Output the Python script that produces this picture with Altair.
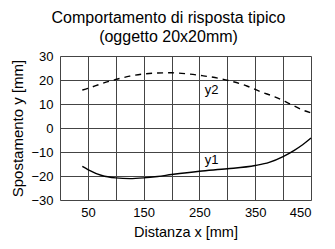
import altair as alt
import pandas as pd

title_lines = ["Comportamento di risposta tipico", "(oggetto 20x20mm)"]
x_title = "Distanza x [mm]"
y_title = "Spostamento y [mm]"

x1 = [40, 50, 75, 100, 125, 150, 175, 200, 250, 300, 350, 375, 400, 420, 435, 450]
y1 = [-16.0, -17.3, -19.8, -20.8, -21.1, -20.8, -20.2, -19.4, -18.0, -17.0, -15.6, -14.3, -11.9, -9.3, -7.0, -4.2]

x2 = [40, 50, 75, 100, 125, 150, 175, 200, 230, 255, 285, 310, 335, 360, 385, 410, 435, 450]
y2 = [15.8, 16.5, 18.5, 20.2, 21.6, 22.5, 22.9, 23.0, 22.5, 21.8, 20.7, 19.3, 17.5, 15.1, 13.0, 10.3, 7.5, 6.3]

label_names = ["y1", "y2"]
label_x = [272, 272]
label_y = [-13.5, 16.0]

x_ticks = list(range(0, 451, 50))
y_ticks = list(range(-30, 31, 10))

df1 = pd.DataFrame({"x": x1, "y": y1})
df2 = pd.DataFrame({"x": x2, "y": y2})
dfl = pd.DataFrame({"x": label_x, "y": label_y, "t": label_names})

FONT = "Liberation Sans"

xs = alt.Scale(domain=[0, 450], nice=False, zero=False)
ys = alt.Scale(domain=[-30, 30], nice=False, zero=False)

xax = alt.Axis(values=x_ticks, tickCount=10, title=x_title, grid=True, ticks=False, domain=False,
               labelExpr="datum.value % 100 == 50 ? datum.label : ''",
               labelOverlap=False,
               gridColor="#444444", gridOpacity=1, gridWidth=1,
               labelFont=FONT, labelFontSize=13, labelColor="black", labelPadding=6,
               titleFont=FONT, titleFontSize=14.5, titleFontWeight="normal", titleColor="black",
               titlePadding=6)
yax = alt.Axis(values=y_ticks, tickCount=7, title=y_title, grid=True, ticks=False, domain=False,
               labelOverlap=False,
               gridColor="#444444", gridOpacity=1, gridWidth=1,
               labelFont=FONT, labelFontSize=13, labelColor="black", labelPadding=7,
               titleFont=FONT, titleFontSize=15, titleFontWeight="normal", titleColor="black",
               titlePadding=5)

X = alt.X("x:Q", scale=xs, axis=xax)
Y = alt.Y("y:Q", scale=ys, axis=yax)

l1 = alt.Chart(df1).mark_line(color="black", strokeWidth=1.4, interpolate="monotone").encode(x=X, y=Y)
l2 = alt.Chart(df2).mark_line(color="black", strokeWidth=1.4, strokeDash=[6, 5], interpolate="monotone").encode(x=X, y=Y)
txt = alt.Chart(dfl).mark_text(font=FONT, fontSize=13, color="black").encode(x=X, y=Y, text="t:N")

chart = alt.layer(l1, l2, txt).properties(
    width=251, height=144,
    title=alt.TitleParams(text=title_lines, font=FONT, fontSize=16, fontWeight="normal",
                          color="black", anchor="middle", offset=5, lineHeight=19, dx=-17),
    autosize=alt.AutoSizeParams(type="none"),
    padding={"left": 52, "top": 48, "right": 16, "bottom": 41},
).configure_view(stroke="black", strokeWidth=1.2).configure(background="white")

chart.save("out.html", embed_options={"renderer": "svg", "actions": False})
